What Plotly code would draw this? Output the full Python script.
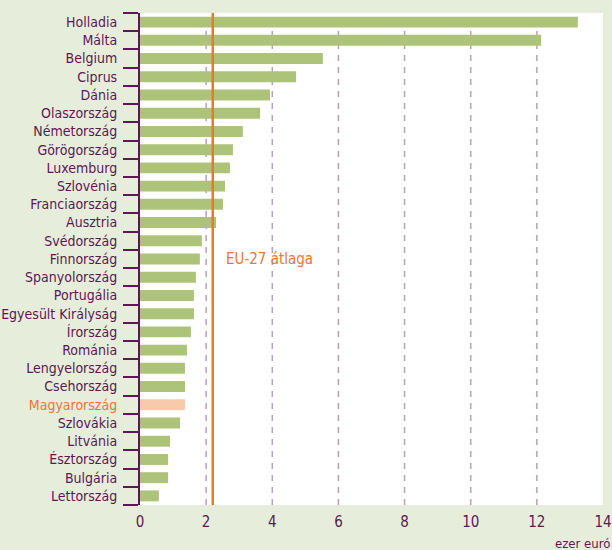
import plotly.graph_objects as go

countries = ["Holladia", "Málta", "Belgium", "Ciprus", "Dánia", "Olaszország",
             "Németország", "Görögország", "Luxemburg", "Szlovénia", "Franciaország",
             "Ausztria", "Svédország", "Finnország", "Spanyolország", "Portugália",
             "Egyesült Királyság", "Írország", "Románia", "Lengyelország", "Csehország",
             "Magyarország", "Szlovákia", "Litvánia", "Észtország", "Bulgária", "Lettország"]
values = [13.24, 12.13, 5.53, 4.72, 3.93, 3.63, 3.11, 2.81, 2.72, 2.57, 2.51,
          2.30, 1.87, 1.81, 1.69, 1.63, 1.63, 1.54, 1.42, 1.36, 1.36, 1.36,
          1.21, 0.91, 0.85, 0.85, 0.57]
eu_average = 2.2
highlight = "Magyarország"
x_ticks = [0, 2, 4, 6, 8, 10, 12, 14]
grid_vals = [2, 4, 6, 8, 10, 12]

GREEN = "#adc37a"
SALMON = "#f9caa9"
ORANGE = "#f07434"
PURPLE = "#5b1852"
BG = "#e6eedb"
FONT = "DejaVu Sans Condensed, Liberation Sans Narrow, Arial Narrow, sans-serif"

bar_colors = [SALMON if c == highlight else GREEN for c in countries]

fig = go.Figure(go.Bar(
    x=values, y=countries, orientation="h",
    marker=dict(color=bar_colors, line=dict(width=0)),
    hoverinfo="x+y",
))

tick_text = [f"<span style='color:{ORANGE}'>{c}</span>" if c == highlight else c for c in countries]

shapes = []
for g in grid_vals:
    shapes.append(dict(type="line", xref="x", yref="paper", x0=g, x1=g, y0=0, y1=1,
                       line=dict(color="#b4a0bd", width=1.5, dash="6px,6px"), layer="below"))
shapes.append(dict(type="line", xref="x", yref="paper", x0=eu_average, x1=eu_average,
                   y0=0, y1=1, line=dict(color=ORANGE, width=2.5), layer="above"))

fig.update_layout(
    width=612, height=550,
    margin=dict(l=140, r=9, t=13, b=45),
    paper_bgcolor=BG, plot_bgcolor="white",
    bargap=0.4,
    showlegend=False,
    font=dict(family=FONT, color=PURPLE, size=14),
    shapes=shapes,
    xaxis=dict(range=[0, 14], tickvals=x_ticks, showgrid=False, zeroline=False,
               showline=False, ticks="", tickfont=dict(size=15, color=PURPLE),
               ticklabelstandoff=6, automargin=False, fixedrange=True),
    yaxis=dict(categoryorder="array", categoryarray=countries, autorange="reversed",
               tickmode="array", tickvals=countries, ticktext=tick_text,
               tickson="boundaries", ticks="outside", ticklen=15, tickwidth=2,
               tickcolor=PURPLE, showline=True, linecolor=PURPLE, linewidth=2,
               showgrid=False, zeroline=False, tickfont=dict(size=14, color=PURPLE),
               ticklabelstandoff=18, automargin=False, fixedrange=True),
    annotations=[
        dict(text="EU-27 átlaga", xref="x", yref="paper", x=2.55, y=0.5,
             xanchor="left", yanchor="middle", showarrow=False,
             font=dict(family=FONT, size=15, color=ORANGE)),
        dict(text="ezer euró", xref="paper", yref="paper", x=1, y=0,
             xanchor="right", yanchor="middle", xshift=9, yshift=-38, showarrow=False,
             font=dict(family=FONT, size=13, color=PURPLE)),
    ],
)

fig.write_html("out.html", config={"displayModeBar": False},
               post_script="document.body.style.margin='0';document.body.style.padding='0';")
